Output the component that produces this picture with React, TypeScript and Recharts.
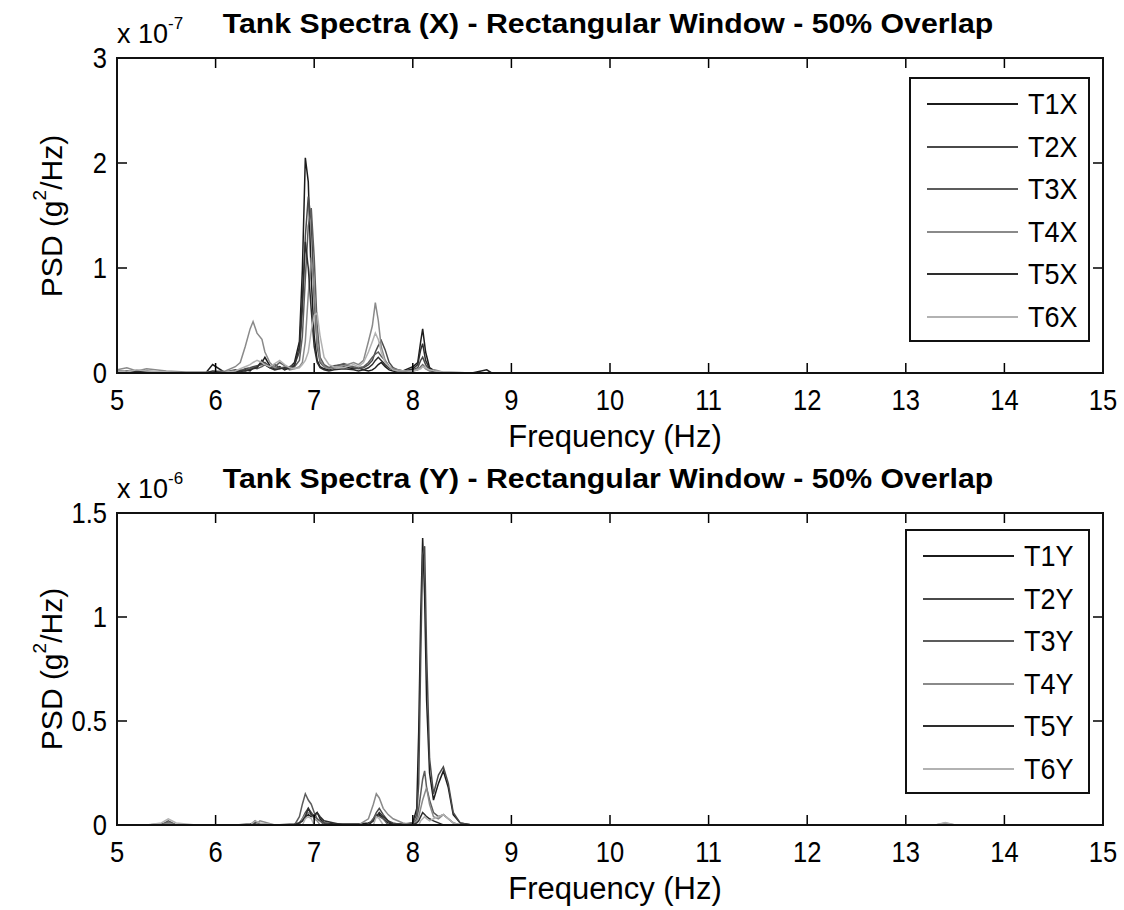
import { LineChart, Line, XAxis, YAxis, Legend } from 'recharts'

// frequency grid (Hz) and PSD values, top panel in units of 1e-7 g^2/Hz
const freqX = [
  5.0, 5.1, 5.2, 5.3, 5.5, 5.7, 5.9, 5.97, 6.1, 6.2,
  6.25, 6.3, 6.35, 6.38, 6.42, 6.47, 6.5, 6.55, 6.6, 6.65,
  6.7, 6.75, 6.8, 6.85, 6.88, 6.91, 6.94, 6.97, 7.0, 7.03,
  7.06, 7.1, 7.15, 7.2, 7.3, 7.4, 7.45, 7.5, 7.55, 7.59,
  7.62, 7.65, 7.68, 7.72, 7.76, 7.8, 7.85, 7.9, 8.0, 8.05,
  8.08, 8.1, 8.13, 8.17, 8.22, 8.3, 8.6, 8.75, 8.8, 9.0,
  12.0, 15.0,
]
const t1x = [
  0.02, 0.01, 0.02, 0.01, 0, 0, 0, 0.08, 0, 0.02,
  0.01, 0.03, 0.02, 0.05, 0.06, 0.1, 0.15, 0.07, 0.04, 0.06,
  0.03, 0.05, 0.1, 0.3, 0.98, 2.05, 1.82, 0.9, 0.35, 0.12,
  0.06, 0.04, 0.03, 0.05, 0.06, 0.04, 0.05, 0.03, 0.02, 0.03,
  0.05, 0.08, 0.1, 0.06, 0.03, 0.02, 0.01, 0.02, 0.06, 0.1,
  0.3, 0.42, 0.2, 0.05, 0.02, 0, 0, 0.03, 0, 0,
  0, 0,
]
const t2x = [
  0.01, 0.02, 0.01, 0.01, 0, 0, 0, 0.01, 0.01, 0.03,
  0.02, 0.04, 0.05, 0.06, 0.07, 0.08, 0.1, 0.06, 0.08, 0.05,
  0.04, 0.06, 0.08, 0.2, 0.6, 1.3, 1.68, 1.45, 0.7, 0.25,
  0.1, 0.06, 0.05, 0.07, 0.08, 0.05, 0.04, 0.05, 0.08, 0.12,
  0.2, 0.26, 0.31, 0.22, 0.1, 0.05, 0.03, 0.02, 0.03, 0.05,
  0.12, 0.15, 0.08, 0.03, 0.01, 0, 0, 0, 0, 0,
  0, 0,
]
const t3x = [
  0.02, 0.01, 0.01, 0.02, 0, 0, 0, 0, 0.01, 0.02,
  0.03, 0.02, 0.04, 0.05, 0.04, 0.06, 0.08, 0.05, 0.06, 0.1,
  0.07, 0.05, 0.06, 0.12, 0.35, 0.9, 1.4, 1.57, 1.1, 0.45,
  0.15, 0.08, 0.05, 0.06, 0.09, 0.06, 0.05, 0.06, 0.1, 0.15,
  0.18, 0.2, 0.16, 0.12, 0.06, 0.03, 0.02, 0.02, 0.02, 0.03,
  0.06, 0.08, 0.05, 0.02, 0.01, 0, 0, 0, 0, 0,
  0, 0,
]
const t4x = [
  0.03, 0.05, 0.02, 0.04, 0.02, 0.01, 0.01, 0.01, 0.02, 0.06,
  0.1, 0.25, 0.42, 0.49, 0.38, 0.32, 0.2, 0.1, 0.05, 0.04,
  0.06, 0.03, 0.04, 0.06, 0.1, 0.3, 0.75, 1.1, 0.8, 0.3,
  0.12, 0.06, 0.04, 0.05, 0.07, 0.1, 0.08, 0.12, 0.3, 0.45,
  0.67, 0.5, 0.25, 0.12, 0.06, 0.04, 0.03, 0.02, 0.02, 0.04,
  0.05, 0.07, 0.04, 0.02, 0.03, 0.01, 0, 0, 0, 0,
  0, 0,
]
const t5x = [
  0.01, 0.01, 0.02, 0.01, 0, 0, 0, 0.02, 0.01, 0.01,
  0.02, 0.02, 0.03, 0.04, 0.05, 0.12, 0.08, 0.05, 0.03, 0.04,
  0.05, 0.04, 0.07, 0.25, 0.7, 1.25, 1.0, 0.6, 0.25, 0.1,
  0.05, 0.03, 0.02, 0.03, 0.04, 0.03, 0.02, 0.03, 0.05, 0.08,
  0.12, 0.15, 0.12, 0.08, 0.05, 0.03, 0.02, 0.01, 0.04, 0.08,
  0.22, 0.28, 0.12, 0.04, 0.01, 0, 0, 0, 0, 0,
  0, 0,
]
const t6x = [
  0.02, 0.01, 0.03, 0.02, 0.01, 0, 0, 0, 0.01, 0.02,
  0.04, 0.06, 0.08, 0.1, 0.12, 0.1, 0.08, 0.06, 0.09, 0.12,
  0.08, 0.05, 0.04, 0.05, 0.08, 0.12, 0.2, 0.4, 0.55, 0.57,
  0.35, 0.15, 0.08, 0.06, 0.05, 0.08, 0.06, 0.1, 0.2, 0.3,
  0.38, 0.32, 0.2, 0.1, 0.06, 0.03, 0.02, 0.02, 0.02, 0.03,
  0.04, 0.06, 0.05, 0.03, 0.02, 0.01, 0, 0, 0, 0,
  0, 0,
]

// bottom panel in units of 1e-6 g^2/Hz
const freqY = [
  5.0, 5.3, 5.45, 5.52, 5.6, 5.8, 6.0, 6.2, 6.35, 6.4,
  6.45, 6.6, 6.8, 6.85, 6.88, 6.91, 6.94, 6.97, 7.0, 7.03,
  7.06, 7.1, 7.2, 7.3, 7.45, 7.55, 7.6, 7.63, 7.66, 7.7,
  7.75, 7.8, 7.9, 8.0, 8.04, 8.06, 8.08, 8.1, 8.12, 8.14,
  8.17, 8.21, 8.26, 8.31, 8.36, 8.41, 8.48, 8.6, 8.8, 9.0,
  10.0, 12.0, 13.3, 13.4, 13.5, 15.0,
]
const t1y = [
  0, 0, 0.005, 0.01, 0, 0, 0, 0, 0.005, 0.01,
  0.005, 0, 0.005, 0.01, 0.02, 0.04, 0.05, 0.04, 0.05, 0.06,
  0.03, 0.01, 0.005, 0.005, 0.005, 0.01, 0.02, 0.04, 0.05, 0.03,
  0.01, 0.005, 0.005, 0.01, 0.08, 0.45, 1.0, 1.38, 1.1, 0.6,
  0.25, 0.12, 0.2, 0.26, 0.18, 0.05, 0.01, 0, 0, 0,
  0, 0, 0, 0, 0, 0,
]
const t2y = [
  0, 0, 0, 0.01, 0, 0, 0, 0, 0, 0.01,
  0, 0, 0, 0.01, 0.03, 0.06, 0.08, 0.06, 0.04, 0.03,
  0.02, 0.01, 0, 0, 0, 0, 0.03, 0.06, 0.08, 0.05,
  0.02, 0.01, 0, 0.01, 0.05, 0.2, 0.8, 1.3, 1.34, 0.83,
  0.32, 0.15, 0.24, 0.28, 0.2, 0.06, 0.01, 0, 0, 0,
  0, 0, 0, 0, 0, 0,
]
const t3y = [
  0, 0, 0, 0.02, 0, 0, 0, 0, 0, 0.02,
  0, 0, 0, 0.04, 0.1, 0.15, 0.12, 0.1, 0.06, 0.03,
  0.02, 0, 0, 0, 0, 0, 0.03, 0.05, 0.04, 0.03,
  0, 0, 0, 0, 0.03, 0.08, 0.15, 0.22, 0.26, 0.18,
  0.12, 0.06, 0.04, 0.05, 0.03, 0.01, 0, 0, 0, 0,
  0, 0, 0, 0, 0, 0,
]
const t4y = [
  0, 0, 0, 0.01, 0, 0, 0, 0, 0, 0,
  0.02, 0, 0, 0, 0.03, 0.05, 0.06, 0.05, 0.03, 0.02,
  0, 0, 0, 0, 0, 0.03, 0.1, 0.15, 0.13, 0.08,
  0.05, 0.03, 0.01, 0, 0.02, 0.04, 0.08, 0.12, 0.15, 0.18,
  0.1, 0.04, 0.03, 0.05, 0.03, 0.01, 0, 0, 0, 0,
  0, 0, 0, 0.01, 0, 0,
]
const t5y = [
  0, 0, 0, 0, 0, 0, 0, 0, 0, 0,
  0, 0, 0, 0.01, 0.02, 0.04, 0.08, 0.05, 0.04, 0.06,
  0.04, 0.02, 0.01, 0, 0, 0, 0.02, 0.04, 0.06, 0.04,
  0.02, 0, 0, 0, 0.01, 0.02, 0.04, 0.06, 0.05, 0.04,
  0.03, 0.02, 0.01, 0, 0, 0, 0, 0, 0, 0,
  0, 0, 0, 0, 0, 0,
]
const t6y = [
  0, 0, 0.01, 0.03, 0.01, 0, 0, 0, 0, 0.02,
  0.01, 0, 0, 0, 0, 0.03, 0.04, 0.03, 0, 0,
  0, 0, 0, 0, 0, 0, 0, 0.04, 0.03, 0,
  0, 0, 0, 0, 0, 0, 0.02, 0.03, 0.04, 0.03,
  0.02, 0.03, 0.04, 0.05, 0.03, 0.01, 0, 0, 0, 0,
  0, 0, 0, 0.012, 0, 0,
]

const namesX = ['T1X', 'T2X', 'T3X', 'T4X', 'T5X', 'T6X']
const namesY = ['T1Y', 'T2Y', 'T3Y', 'T4Y', 'T5Y', 'T6Y']
const xTicks = [5, 6, 7, 8, 9, 10, 11, 12, 13, 14, 15]
const yTicksTop = [0, 1, 2, 3]
const yTicksBottom = [0, 0.5, 1, 1.5]

const colors = ['#1c1c1c', '#4a4a4a', '#5c5c5c', '#8a8a8a', '#2e2e2e', '#b2b2b2']
const FONT = '"Liberation Sans", Arial, sans-serif'

const rowsX = freqX.map((f, i) => ({
  f, T1X: t1x[i], T2X: t2x[i], T3X: t3x[i], T4X: t4x[i], T5X: t5x[i], T6X: t6x[i],
}))
const rowsY = freqY.map((f, i) => ({
  f, T1Y: t1y[i], T2Y: t2y[i], T3Y: t3y[i], T4Y: t4y[i], T5Y: t5y[i], T6Y: t6y[i],
}))

const LEFT = 117
const RIGHT = 1103
const TOP = 58
const XAXIS_H = 30
const YAXIS_W = 60

type PanelProps = {
  offset: number
  height: number
  bottomMargin: number
  rows: any[]
  names: string[]
  yTicks: number[]
  yMax: number
  title: string
  exp: string
  legendLeft: number
  legendTop: number
  legendWidth: number
}

function Panel(props: PanelProps) {
  const { offset, height, bottomMargin, rows, names, yTicks, yMax, title, exp, legendLeft, legendTop, legendWidth } = props
  const bottom = height - bottomMargin

  // MATLAB-style ticks: inward on all four sides, narrow-looking labels
  const XTick = (p: any) => (
    <g>
      <line x1={p.x} x2={p.x} y1={bottom} y2={bottom - 10} stroke="#000" strokeWidth={1.5} />
      <line x1={p.x} x2={p.x} y1={TOP} y2={TOP + 10} stroke="#000" strokeWidth={1.5} />
      <text transform={`translate(${p.x},${bottom + 37}) scale(0.88,1)`} textAnchor="middle" fontSize={29} fontFamily={FONT} fill="#000">
        {p.payload.value}
      </text>
    </g>
  )
  const YTick = (p: any) => (
    <g>
      <line x1={LEFT} x2={LEFT + 10} y1={p.y} y2={p.y} stroke="#000" strokeWidth={1.5} />
      <line x1={RIGHT} x2={RIGHT - 10} y1={p.y} y2={p.y} stroke="#000" strokeWidth={1.5} />
      <text transform={`translate(${LEFT - 10},${p.y + 10}) scale(0.88,1)`} textAnchor="end" fontSize={29} fontFamily={FONT} fill="#000">
        {p.payload.value}
      </text>
    </g>
  )

  const legendContent = () => (
    <div style={{ width: legendWidth, height: 265, border: '2px solid #111', background: '#fff', boxSizing: 'border-box', position: 'relative', fontFamily: FONT }}>
      {names.map((n, i) => (
        <div key={n} style={{ position: 'absolute', left: 16, top: 25 + i * 42.5 - 16, height: 32, display: 'flex', alignItems: 'center' }}>
          <span style={{ display: 'inline-block', width: 91, borderTop: `2px solid ${colors[i]}` }} />
          <span style={{ marginLeft: 10, fontSize: 30, color: '#000', display: 'inline-block', transform: 'scaleX(0.9)', transformOrigin: 'left center' }}>{n}</span>
        </div>
      ))}
    </div>
  )

  return (
    <div style={{ position: 'absolute', left: 0, top: offset, width: 1124, height }}>
      <LineChart width={1124} height={height} data={rows}
        margin={{ top: TOP, right: 1124 - RIGHT, bottom: bottomMargin - XAXIS_H, left: LEFT - YAXIS_W }}>
        <XAxis dataKey="f" type="number" domain={[5, 15]} ticks={xTicks} interval={0} tick={XTick}
          tickLine={false} axisLine={false} height={XAXIS_H} tickSize={0} tickMargin={0} allowDataOverflow />
        <YAxis type="number" domain={[0, yMax]} ticks={yTicks} interval={0} tick={YTick}
          tickLine={false} axisLine={false} width={YAXIS_W} tickSize={0} tickMargin={0} allowDataOverflow />
        {names.map((n, i) => (
          <Line key={n} type="linear" dataKey={n} stroke={colors[i]} strokeWidth={1.5} dot={false} isAnimationActive={false} />
        ))}
        <Legend layout="vertical" align="center" verticalAlign="middle" content={legendContent}
          wrapperStyle={{ position: 'absolute', left: legendLeft, top: legendTop, width: legendWidth, height: 265 }} />
      </LineChart>
      <div style={{ position: 'absolute', left: LEFT - 1, top: TOP - 1, width: RIGHT - LEFT + 2, height: bottom - TOP + 2, border: '2px solid #111', boxSizing: 'border-box', pointerEvents: 'none' }} />
      <div style={{ position: 'absolute', left: 608, top: 24, transform: 'translate(-50%, -50%) scaleX(1.12)', fontFamily: FONT, fontWeight: 'bold', fontSize: 27, whiteSpace: 'nowrap', color: '#000' }}>
        {title}
      </div>
      <div style={{ position: 'absolute', left: LEFT, top: 18, fontFamily: FONT, fontSize: 27, whiteSpace: 'nowrap', color: '#000', lineHeight: '32px' }}>
        x 10<sup style={{ fontSize: 17, verticalAlign: 'top', position: 'relative', top: -10 }}>{exp}</sup>
      </div>
      <div style={{ position: 'absolute', left: 52, top: (TOP + bottom) / 2, transform: 'translate(-50%, -50%) rotate(-90deg)', fontFamily: FONT, fontSize: 30, whiteSpace: 'nowrap', color: '#000' }}>
        PSD (g<sup style={{ fontSize: 19, verticalAlign: 'top', position: 'relative', top: -6 }}>2</sup>/Hz)
      </div>
      <div style={{ position: 'absolute', left: 615, top: bottom + 64, transform: 'translate(-50%, -50%)', fontFamily: FONT, fontSize: 31, whiteSpace: 'nowrap', color: '#000' }}>
        Frequency (Hz)
      </div>
    </div>
  )
}

export default function App() {
  return (
    <div style={{ position: 'absolute', left: 0, top: 0, width: 1124, height: 910, background: '#fff' }}>
      <Panel offset={0} height={455} bottomMargin={82} rows={rowsX} names={namesX} yTicks={yTicksTop} yMax={3}
        title="Tank Spectra (X) - Rectangular Window - 50% Overlap" exp="-7"
        legendLeft={909} legendTop={77} legendWidth={181} />
      <Panel offset={455} height={455} bottomMargin={85} rows={rowsY} names={namesY} yTicks={yTicksBottom} yMax={1.5}
        title="Tank Spectra (Y) - Rectangular Window - 50% Overlap" exp="-6"
        legendLeft={905} legendTop={74} legendWidth={185} />
    </div>
  )
}
